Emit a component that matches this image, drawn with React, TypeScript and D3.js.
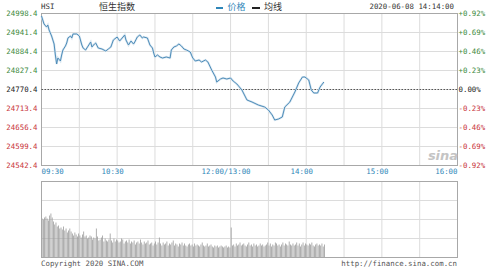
import React from "react";
import * as d3 from "d3";

const priceTicks = [24998.4, 24941.4, 24884.4, 24827.4, 24770.4, 24713.4, 24656.4, 24599.4, 24542.4];
const pctTicks = ["+0.92%", "+0.69%", "+0.46%", "+0.23%", "0.00%", "-0.23%", "-0.46%", "-0.69%", "-0.92%"];
const timeTicks = [0, 60, 150, 210, 270, 330];
const timeLabels = ["09:30", "10:30", "12:00/13:00", "14:00", "15:00", "16:00"];
const prevClose = 24770.4;

// minute index since 09:30 (lunch break removed) and price
const priceMinutes = [0, 2, 4, 5, 6, 8, 10, 11, 12, 13, 15, 16, 17, 19, 20, 21, 23, 24, 25, 28, 30, 32, 33, 35, 37, 39, 40, 42, 43, 45, 48, 51, 53, 55, 57, 60, 62, 64, 66, 67, 69, 71, 73, 74, 76, 78, 80, 81, 84, 86, 88, 89, 90, 92, 94, 96, 99, 102, 103, 105, 107, 109, 111, 113, 115, 118, 120, 122, 125, 127, 130, 132, 135, 138, 139, 142, 144, 147, 150, 152, 155, 159, 163, 167, 172, 177, 180, 183, 185, 188, 191, 193, 197, 201, 204, 207, 209, 212, 214, 216, 219, 221, 224];
const priceValues = [24990.9, 24966.9, 24957.9, 24963.9, 24948.9, 24930.9, 24906.9, 24873.9, 24846.9, 24864.9, 24855.9, 24873.9, 24888.9, 24900.9, 24909.9, 24924.9, 24930.9, 24924.9, 24936.9, 24936.9, 24930.9, 24903.9, 24894.9, 24888.9, 24900.9, 24912.9, 24897.9, 24906.9, 24909.9, 24894.9, 24891.9, 24885.9, 24891.9, 24897.9, 24918.9, 24927.9, 24915.9, 24924.9, 24933.9, 24918.9, 24903.9, 24915.9, 24906.9, 24912.9, 24927.9, 24933.9, 24924.9, 24927.9, 24924.9, 24903.9, 24894.9, 24879.9, 24867.9, 24873.9, 24867.9, 24864.9, 24867.9, 24864.9, 24888.9, 24897.9, 24900.9, 24906.9, 24900.9, 24891.9, 24888.9, 24882.9, 24864.9, 24855.9, 24858.9, 24852.9, 24858.9, 24852.9, 24828.9, 24807.9, 24792.9, 24801.9, 24804.9, 24801.9, 24804.9, 24795.9, 24786.9, 24768.9, 24738.9, 24732.9, 24723.9, 24717.9, 24708.9, 24693.9, 24678.9, 24681.9, 24687.9, 24717.9, 24732.9, 24762.9, 24789.9, 24807.9, 24807.9, 24798.9, 24768.9, 24759.9, 24759.9, 24777.9, 24792.9];

// per-minute volume (arbitrary units, panel top = 76)
const volumes = [
  39, 38, 40, 41, 39, 37, 42, 44, 40, 36,
  33, 35, 31, 32, 29, 30, 28, 31, 27, 29,
  25, 27, 29, 26, 24, 22, 25, 23, 21, 24,
  22, 20, 23, 26, 21, 22, 19, 20, 22, 21,
  18, 20, 19, 29, 21, 17, 18, 20, 22, 16,
  19, 17, 16, 18, 24, 17, 15, 19, 16, 18,
  17, 15, 16, 19, 18, 14, 16, 17, 15, 18,
  14, 16, 15, 17, 13, 15, 16, 14, 18, 15,
  13, 16, 14, 15, 17, 13, 14, 15, 12, 14,
  16, 13, 15, 20, 14, 12, 15, 13, 14, 16,
  12, 14, 13, 15, 17, 12, 14, 13, 11, 14,
  13, 15, 12, 14, 12, 11, 13, 14, 12, 13,
  11, 14, 12, 13, 12, 11, 13, 15, 12, 11,
  12, 14, 11, 12, 13, 11, 10, 12, 11, 12,
  10, 11, 12, 11, 10, 11, 12, 10, 11, 10,
  30, 12, 13, 11, 14, 12, 13, 15, 12, 13,
  14, 12, 11, 13, 15, 12, 13, 11, 14, 12,
  13, 11, 12, 14, 12, 13, 11, 12, 13, 15,
  12, 14, 11, 13, 12, 15, 14, 12, 13, 11,
  13, 15, 12, 14, 13, 12, 16, 13, 12, 14,
  12, 13, 15, 12, 14, 11, 13, 15, 12, 14,
  13, 12, 14, 13, 15, 12, 11, 13, 14, 12,
  13, 12, 14, 11, 13,
];

const W = 499;
const H = 272;
const L = 41.5;
const R = 457.5;
const T = 13.5;
const B = 165.5;
const VT = 181.5;
const VB = 257.5;
const mono = "'DejaVu Sans Mono', monospace";
const cjk = "'Noto Sans CJK SC', sans-serif";

export default function App() {
  const x = d3.scaleLinear().domain([0, 330]).range([L, R]);
  const y = d3.scaleLinear().domain([priceTicks[priceTicks.length - 1], priceTicks[0]]).range([B, T]);
  const yv = d3.scaleLinear().domain([0, 76]).range([VB, VT]);
  const line = d3
    .line<number>()
    .x((_, i) => x(priceMinutes[i]))
    .y((d) => y(d))
    .curve(d3.curveLinear);
  const vGrid = d3.range(0, 331, 30);
  const vRows = [0, 19, 38, 57, 76];

  return (
    <svg width={W} height={H} style={{ position: "absolute", left: 0, top: 0, background: "#fff" }}>
      {/* header */}
      <text x={41} y={9} fontFamily={mono} fontSize={7.4} fill="#333">HSI</text>
      <text x={99} y={10} fontFamily={cjk} fontSize={9} fill="#333">恒生指数</text>
      <line x1={216} x2={223} y1={8} y2={8} stroke="#2f86b8" strokeWidth={2} />
      <text x={227.5} y={10} fontFamily={cjk} fontSize={9} fill="#2f86b8">价格</text>
      <line x1={252} x2={260} y1={8} y2={8} stroke="#222" strokeWidth={2} />
      <text x={264} y={10} fontFamily={cjk} fontSize={9} fill="#333">均线</text>
      <text x={454} y={9} textAnchor="end" fontFamily={mono} fontSize={7.4} fill="#333">2020-06-08 14:14:00</text>

      {/* main grid */}
      {vGrid.map((m) => (
        <line key={"v" + m} x1={x(m)} x2={x(m)} y1={T} y2={B} stroke="#dcdcdc" />
      ))}
      {priceTicks.map((p) => (
        <line key={"h" + p} x1={L} x2={R} y1={y(p)} y2={y(p)} stroke="#dcdcdc" />
      ))}
      <rect x={L} y={T} width={R - L} height={B - T} fill="none" stroke="#a8a8a8" />
      <line x1={L} x2={R} y1={y(prevClose)} y2={y(prevClose)} stroke="#555" strokeDasharray="1.5,1.5" />

      {/* axis labels */}
      {priceTicks.map((p, i) => (
        <text key={"pl" + i} x={37.5} y={y(p) + 2.7} textAnchor="end" fontFamily={mono} fontSize={7.4}
          fill={i < 4 ? "#3d8a3d" : i === 4 ? "#222" : "#c8343a"}>
          {p.toFixed(1)}
        </text>
      ))}
      {pctTicks.map((p, i) => (
        <text key={"pp" + i} x={458.5} y={y(priceTicks[i]) + 2.7} fontFamily={mono} fontSize={7.4}
          fill={i < 4 ? "#3d8a3d" : i === 4 ? "#222" : "#c8343a"}>
          {p}
        </text>
      ))}
      {timeTicks.map((m, i) => (
        <text key={"t" + i}
          x={i === 0 ? L : i === timeTicks.length - 1 ? R : x(m) - 4.5}
          y={174}
          textAnchor={i === 0 ? "start" : i === timeTicks.length - 1 ? "end" : "middle"}
          fontFamily={mono} fontSize={7.4} fill="#2f86b8">
          {timeLabels[i]}
        </text>
      ))}

      {/* watermark */}
      <text x={443} y={160} textAnchor="middle" fontFamily="'DejaVu Sans', sans-serif" fontSize={13}
        fontStyle="italic" fontWeight="bold" fill="#c4c4c4">sina</text>

      {/* price line */}
      <path d={line(priceValues) || ""} fill="none" stroke="#d6e5f0" strokeWidth={2.2} />
      <path d={line(priceValues) || ""} fill="none" stroke="#4f8db9" strokeWidth={1} />

      {/* volume panel */}
      {vGrid.map((m) => (
        <line key={"vv" + m} x1={x(m)} x2={x(m)} y1={VT} y2={VB} stroke="#dcdcdc" />
      ))}
      {vRows.map((v) => (
        <line key={"vh" + v} x1={L} x2={R} y1={yv(v)} y2={yv(v)} stroke="#dcdcdc" />
      ))}
      {volumes.map((v, i) => (
        <rect key={"b" + i} x={x(i) + 0.2} y={yv(v)} width={0.8} height={VB - yv(v)} fill="#9c9c9c" />
      ))}
      <rect x={L} y={VT} width={R - L} height={VB - VT} fill="none" stroke="#a8a8a8" />

      {/* footer */}
      <text x={41} y={266} fontFamily={mono} fontSize={7.4} fill="#555">Copyright 2020 SINA.COM</text>
      <text x={457} y={266} textAnchor="end" fontFamily={mono} fontSize={7.4} fill="#555">http://finance.sina.com.cn</text>
    </svg>
  );
}
